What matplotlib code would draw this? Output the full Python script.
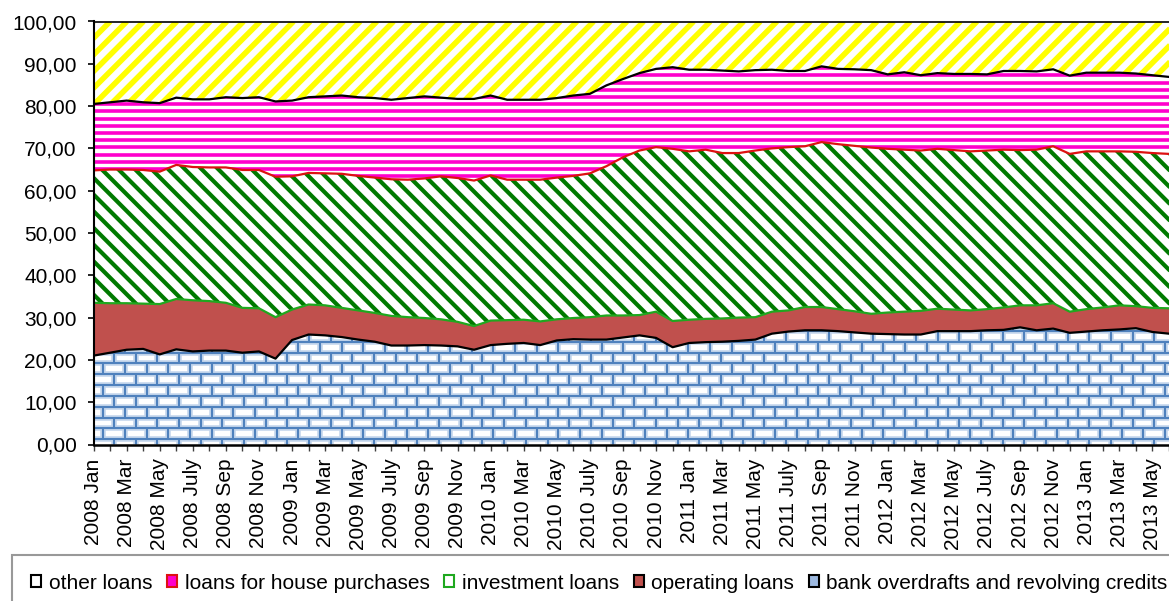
import matplotlib
matplotlib.use("Agg")
import matplotlib.pyplot as plt
import numpy as np
from matplotlib.collections import LineCollection
from matplotlib.patches import Patch
from matplotlib.transforms import IdentityTransform

plt.rcParams["font.family"] = ["Liberation Sans", "DejaVu Sans"]

# --- data: loan portfolio structure, % of total ---------------------------
MONTH_NAMES = ["Jan", "Feb", "Mar", "Apr", "May", "June",
               "July", "Aug", "Sep", "Oct", "Nov", "Dec"]
months = [f"{2008 + i // 12} {MONTH_NAMES[i % 12]}" for i in range(66)]

bank_overdrafts = [
    21.0, 21.7, 22.4, 22.6, 21.3, 22.5, 22.0, 22.2, 22.2, 21.7, 22.0, 20.3,
    24.7, 26.0, 25.8, 25.4, 24.8, 24.3, 23.4, 23.4, 23.5, 23.4, 23.2, 22.4,
    23.5, 23.8, 24.0, 23.5, 24.6, 24.9, 24.8, 24.8, 25.3, 25.8, 25.2, 23.0,
    24.0, 24.2, 24.3, 24.5, 24.8, 26.2, 26.7, 27.0, 27.0, 26.8, 26.5, 26.2,
    26.1, 26.0, 26.0, 26.8, 26.8, 26.8, 27.0, 27.1, 27.7, 27.0, 27.4, 26.4,
    26.7, 27.0, 27.2, 27.5, 26.6, 26.2]
operating_loans = [
    12.5, 11.7, 11.0, 10.7, 11.9, 11.9, 12.1, 11.7, 11.3, 10.6, 10.2, 9.8,
    7.2, 7.1, 7.1, 6.9, 6.9, 6.8, 7.0, 6.7, 6.4, 6.2, 5.8, 5.6,
    5.8, 5.6, 5.5, 5.6, 5.0, 5.0, 5.3, 5.7, 5.2, 4.8, 6.2, 6.2,
    5.5, 5.5, 5.5, 5.5, 5.3, 5.2, 5.0, 5.5, 5.5, 5.2, 5.0, 4.7,
    5.1, 5.4, 5.6, 5.3, 5.1, 4.9, 5.0, 5.3, 5.2, 5.9, 6.0, 5.0,
    5.3, 5.4, 5.7, 5.2, 5.7, 6.0]
investment_loans = [
    31.3, 31.6, 31.6, 31.6, 31.3, 31.7, 31.5, 31.6, 32.0, 32.6, 32.7, 33.2,
    31.5, 31.1, 31.2, 31.7, 31.8, 32.0, 32.3, 32.5, 33.0, 33.8, 34.0, 34.4,
    34.3, 33.2, 33.1, 33.5, 33.5, 33.6, 34.0, 35.3, 37.4, 38.9, 38.9, 40.7,
    39.8, 40.0, 39.1, 38.9, 39.4, 38.6, 38.6, 38.0, 39.0, 39.0, 39.1, 39.3,
    38.7, 38.3, 37.9, 37.8, 37.7, 37.6, 37.5, 37.3, 36.7, 36.8, 37.1, 37.3,
    37.3, 36.9, 36.4, 36.5, 36.6, 36.5]
house_loans = [
    15.7, 15.9, 16.3, 16.0, 16.2, 15.9, 16.0, 16.1, 16.6, 17.0, 17.2, 17.8,
    17.9, 17.9, 18.2, 18.5, 18.6, 18.8, 18.8, 19.3, 19.4, 18.6, 18.7, 19.3,
    18.9, 18.9, 18.9, 18.9, 18.8, 19.0, 18.8, 19.1, 18.5, 18.3, 18.5, 19.3,
    19.3, 18.9, 19.5, 19.3, 19.0, 18.6, 18.0, 17.8, 17.9, 17.8, 18.1, 18.3,
    17.6, 18.3, 17.8, 17.9, 18.0, 18.3, 18.0, 18.6, 18.7, 18.5, 18.2, 18.5,
    18.6, 18.6, 18.6, 18.5, 18.4, 18.2]
other_loans = [
    19.5, 19.1, 18.7, 19.1, 19.3, 18.0, 18.4, 18.4, 17.9, 18.1, 17.9, 18.9,
    18.7, 17.9, 17.7, 17.5, 17.9, 18.1, 18.5, 18.1, 17.7, 18.0, 18.3, 18.3,
    17.5, 18.5, 18.5, 18.5, 18.1, 17.5, 17.1, 15.1, 13.6, 12.2, 11.2, 10.8,
    11.4, 11.4, 11.6, 11.8, 11.5, 11.4, 11.7, 11.7, 10.6, 11.2, 11.3, 11.5,
    12.5, 12.0, 12.7, 12.2, 12.4, 12.4, 12.5, 11.7, 11.7, 11.8, 11.3, 12.8,
    12.1, 12.1, 12.1, 12.3, 12.7, 13.1]

y_ticks = list(range(0, 101, 10))

# --- colours --------------------------------------------------------------
BLUE = "#4F81BD"
BLUE_SOFT = "#C3D5EC"
OPER = "#C0504D"
GREEN_STRIPE = "#007A00"
GREEN_LINE = "#1FA81F"
MAGENTA = "#FF00CC"
RED_LINE = "#DD1111"
YELLOW = "#FFFF00"

W, H, DPI = 1169, 601, 100
MONTH_PX = 16.69
fig = plt.figure(figsize=(W / DPI, H / DPI), dpi=DPI)
ax = fig.add_axes([93.5 / W, 1 - 444.5 / H, (W - 93.5) / W, (444.5 - 21.5) / H])

x = np.arange(len(months))
series = [bank_overdrafts, operating_loans, investment_loans, house_loans, other_loans]
areas = ax.stackplot(x, *series,
                     colors=["white", OPER, "white", "white", "white"],
                     linewidth=0, zorder=1)

bb = ax.bbox  # pixel box of the plot area


def add_texture(area, segments, color, width):
    lc = LineCollection(segments, colors=color, linewidths=width,
                        transform=IdentityTransform(), capstyle="butt", zorder=1.5)
    ax.add_collection(lc, autolim=False)
    lc.set_clip_path(area.get_paths()[0], ax.transData)


def diagonal(period, rising):
    h = bb.height
    segs = []
    for t in np.arange(-h, bb.width + period, period):
        if rising:
            segs.append([(bb.x0 + t, bb.y0), (bb.x0 + t + h, bb.y1)])
        else:
            segs.append([(bb.x0 + t, bb.y1), (bb.x0 + t + h, bb.y0)])
    return segs


def horizontal(period, offset=0.0):
    return [[(bb.x0, y), (bb.x1, y)]
            for y in np.arange(bb.y0 + offset, bb.y1, period)]


def bricks(bw, bh, yoff, xoff):
    segs = []
    for k, y in enumerate(np.arange(bb.y0 + yoff - bh, bb.y1 + bh, bh)):
        segs.append([(bb.x0, y), (bb.x1, y)])
        shift = xoff + 0.5 * bw * (k % 2)
        for xv in np.arange(bb.x0 + shift - bw, bb.x1 + bw, bw):
            segs.append([(xv, y), (xv, y + bh)])
    return segs


brick_segs = bricks(21.67, 10.85, 5.2, 20.6)
add_texture(areas[0], brick_segs, BLUE_SOFT, 4.0)
add_texture(areas[0], brick_segs, BLUE, 1.5)
add_texture(areas[2], diagonal(16.67, rising=False), GREEN_STRIPE, 3.0)
add_texture(areas[3], horizontal(7.2, 2.0), MAGENTA, 2.6)
add_texture(areas[4], diagonal(16.67, rising=True), YELLOW, 4.0)

# borders between the stacked series
tops = np.cumsum(np.array(series), axis=0)
for level, color in zip(tops[:4], ["black", GREEN_LINE, RED_LINE, "black"]):
    ax.plot(x, level, color=color, lw=1.6, zorder=3, solid_joinstyle="round")

# --- axes -------------------------------------------------------------------
ax.set_xlim(0, (W - 93.5) / MONTH_PX)
ax.set_ylim(0, 100)

for side in ["left", "bottom", "top"]:
    ax.spines[side].set_color("black")
    ax.spines[side].set_zorder(4)
ax.spines["left"].set_linewidth(1.5)
ax.spines["bottom"].set_linewidth(1.8)
ax.spines["top"].set_linewidth(1.2)
ax.spines["right"].set_visible(False)

ax.set_yticks(y_ticks)
ax.set_yticklabels([f"{v:.2f}".replace(".", ",") for v in y_ticks], fontsize=15)
ax.tick_params(axis="y", length=4, width=1.2, pad=8, color="black")

ax.set_xticks(x[::2])
ax.set_xticklabels(months[::2], rotation=90, fontsize=15)
ax.set_xticks(x[1::2], minor=True)
ax.tick_params(axis="x", which="both", length=4, width=1.0, pad=6, color="#404040")

handles = [
    Patch(facecolor="white", edgecolor="black", lw=1.5, label="other loans"),
    Patch(facecolor=MAGENTA, edgecolor=RED_LINE, lw=1.5, label="loans for house purchases"),
    Patch(facecolor="white", edgecolor=GREEN_LINE, lw=1.5, label="investment loans"),
    Patch(facecolor=OPER, edgecolor="black", lw=1.5, label="operating loans"),
    Patch(facecolor="#9DB9E0", edgecolor="black", lw=1.5,
          label="bank overdrafts and revolving credits"),
]
leg = fig.legend(handles=handles, loc="upper left",
                 bbox_to_anchor=(12.3 / W, 1 - 555 / H), ncol=5, fontsize=15,
                 frameon=True, fancybox=False, borderaxespad=0, borderpad=0.9,
                 handlelength=0.5, handleheight=0.5, handletextpad=0.35,
                 columnspacing=0.7)
leg.get_frame().set_edgecolor("#808080")
leg.get_frame().set_linewidth(1.5)

fig.savefig("out.png", dpi=DPI)
